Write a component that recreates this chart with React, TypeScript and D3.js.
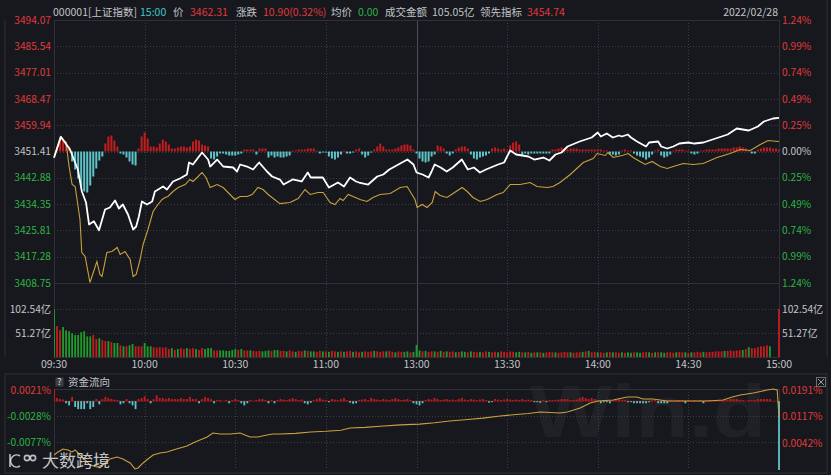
import React from 'react';
import * as d3 from 'd3';

// ---------- data ----------
const priceTicks = [3494.07, 3485.54, 3477.01, 3468.47, 3459.94, 3451.41, 3442.88, 3434.35, 3425.81, 3417.28, 3408.75];
const pctTicks = ['1.24%', '0.99%', '0.74%', '0.49%', '0.25%', '0.00%', '0.25%', '0.49%', '0.74%', '0.99%', '1.24%'];
const volTicks = [102.54, 51.27];
const volTickLabels = ['102.54亿', '51.27亿'];
const timeMinutes = [0, 30, 60, 90, 120, 150, 180, 210, 240];
const timeLabels = ['09:30', '10:00', '10:30', '11:00', '13:00', '13:30', '14:00', '14:30', '15:00'];
const flowLeftTicks = [0.0021, -0.0028, -0.0077];
const flowLeftLabels = ['0.0021%', '-0.0028%', '-0.0077%'];
const flowRightTicks = [0.0191, 0.0117, 0.0042];
const flowRightLabels = ['0.0191%', '0.0117%', '0.0042%'];

// price line: [trading minute, price]
const pricePts: [number, number][] = [
  [0, 3449.37], [2.3, 3456.18], [5.3, 3452.06], [7.9, 3445.57], [9.2, 3438.53], [10.6, 3434.87], [11.6, 3427.73],
  [13.2, 3428.8], [14.9, 3425.88], [16.9, 3432.59], [18.5, 3433.24], [20.2, 3435.51], [21.5, 3432.92], [22.8, 3434.22],
  [24.5, 3430.97], [26.2, 3426.11], [27.2, 3427.08], [28.1, 3430.32], [29.1, 3435.19], [30.8, 3434.22], [32.5, 3435.19],
  [33.4, 3438.43], [36.1, 3440.06], [37.4, 3439.08], [39.4, 3441.68], [41.7, 3442.65], [44, 3443.95], [44.7, 3447.84],
  [46, 3447.19], [49, 3451.09], [51, 3448.81], [51.7, 3446.54], [54, 3448.81], [56, 3446.54], [59.3, 3446.22],
  [60.6, 3444.92], [61.6, 3447.19], [63.9, 3446.54], [65.9, 3445.57], [67.9, 3447.84], [70.5, 3444.92], [72.2, 3443.3],
  [74.8, 3442.3], [76, 3440.7], [79, 3442.33], [82, 3441.68], [84, 3444.6], [85, 3442.98], [89, 3442.98],
  [91, 3439.73], [94, 3441.35], [96, 3440.06], [98, 3442.98], [100, 3441.68], [101, 3441.35], [104, 3440.7],
  [107, 3443.3], [109, 3443.95], [111, 3445.57], [114, 3447.19], [117, 3448.81], [119, 3447.19], [120, 3444.6],
  [122, 3443.95], [124, 3442.98], [125, 3444.92], [126, 3447.19], [128, 3446.22], [130, 3444.92], [132, 3446.22],
  [135, 3448.81], [137, 3445.57], [139, 3446.22], [141, 3444.6], [143, 3445.57], [147, 3447.19], [149, 3447.84],
  [151, 3451.73], [153, 3450.44], [157, 3449.79], [159, 3448.81], [162, 3449.46], [164, 3448.49], [166, 3450.44],
  [168, 3451.09], [170, 3453.03], [174, 3454.65], [178, 3455.95], [180, 3457.57], [181, 3456.28], [183, 3457.25],
  [185, 3455.95], [187, 3456.6], [188, 3456.28], [190, 3456.92], [191, 3455.95], [193, 3454.65], [196, 3453.03],
  [197, 3454.33], [200, 3454.65], [201, 3453.03], [203, 3452.38], [205, 3453.03], [207, 3454.0], [210, 3454.33],
  [212, 3454.0], [215, 3454.33], [218, 3455.3], [223, 3456.92], [226, 3458.87], [230, 3458.22], [233, 3459.52],
  [235, 3461.14], [238, 3462.11], [240, 3462.31],
];

// leading indicator line: [trading minute, value]
const leadPts: [number, number][] = [
  [0, 3449.46], [2, 3455.95], [4, 3454.33], [5, 3446.54], [6, 3440.7], [7, 3440.06], [8.6, 3429.35], [9.2, 3418.65],
  [10.3, 3417.35], [11.9, 3408.91], [14.2, 3415.73], [15.2, 3411.51], [15.9, 3410.86], [17.5, 3418.65], [19.2, 3418.97],
  [20.9, 3420.27], [21.9, 3418.0], [23.5, 3418.97], [25.2, 3416.37], [26.2, 3410.86], [27.2, 3411.51], [28.5, 3416.37],
  [29.5, 3421.24], [31.1, 3426.11], [32.8, 3431.95], [34.4, 3434.22], [35.8, 3435.84], [36.8, 3436.49], [37.7, 3436.81],
  [39.4, 3438.43], [41.1, 3439.73], [43.4, 3440.7], [45, 3442.33], [46, 3441.68], [47.4, 3442.98], [49, 3444.6],
  [50.3, 3442.98], [51.7, 3439.73], [54, 3440.7], [56, 3439.73], [59.9, 3435.84], [61.6, 3436.81], [63.9, 3436.81],
  [65.6, 3437.46], [67.5, 3439.73], [69.2, 3439.08], [70.9, 3437.46], [74.8, 3434.5], [78.1, 3434.87], [80.8, 3436.16],
  [83.1, 3439.08], [84.8, 3437.46], [87.4, 3438.11], [89.1, 3438.11], [91.4, 3434.87], [93, 3434.22], [94.7, 3436.16],
  [95.7, 3435.51], [97.4, 3437.46], [99, 3436.81], [101.3, 3435.84], [103.6, 3435.19], [105.6, 3436.49], [107.9, 3437.46],
  [111.3, 3437.79], [114.6, 3439.73], [116.9, 3440.06], [117.9, 3438.43], [119.5, 3435.84], [120.2, 3433.24],
  [121.9, 3434.22], [123.5, 3433.24], [125.2, 3434.87], [126.2, 3438.43], [127.8, 3437.14], [130.1, 3436.49],
  [132.1, 3437.79], [135.1, 3439.73], [136.8, 3438.43], [138.7, 3436.49], [141.1, 3435.19], [143.4, 3435.84],
  [146.7, 3437.46], [148.7, 3438.11], [151, 3440.7], [154.3, 3440.7], [157.6, 3441.35], [159.9, 3440.06],
  [163.2, 3439.73], [165.2, 3440.06], [167.5, 3441.35], [170.9, 3443.95], [175.2, 3447.84], [178.5, 3449.14],
  [179.8, 3450.76], [182.5, 3450.11], [183.4, 3451.09], [185.1, 3449.46], [188.1, 3450.11], [190.1, 3450.76],
  [191.7, 3449.46], [194, 3448.17], [195.7, 3447.19], [198, 3448.17], [200.7, 3446.54], [203, 3445.89], [205, 3446.54],
  [208.3, 3447.52], [211.6, 3447.19], [214.9, 3447.52], [219.5, 3449.46], [223.8, 3450.76], [227.2, 3452.06],
  [230.5, 3451.73], [233.8, 3453.68], [236.4, 3454.98], [239.7, 3454.65], [240, 3454.74],
];

// per-minute difference bars (indicator units), minute 0..240
const diffBars = [
  0,
  4, 12, 12, 10, 5, -10, -18, -27, -35, -40,
  -41, -34, -25, -17, -9, -5, 8, 15, 16, 11,
  5, -2, -3, -6, -10, -13, -14, 3, 15, 19,
  13, 5, 5, 4, 8, 12, 10, 7, 3, 3,
  4, 5, 5, 4, 5, 10, 12, 11, 7, 6,
  5, -7, -8, -5, -2, -2, -3, -4, -4, -4,
  -3, -2, 2, 2, 2, 2, -3, 3, 3, 3,
  -6, -4, -6, -5, -6, -6, -5, -4, 1, 1,
  2, 2, 2, 3, 3, 3, 1, -2, -1, -1,
  -5, -7, -8, -6, -3, 1, -2, -2, -1, 2,
  3, -3, -6, -4, -1, 2, 5, 8, 5, 2,
  2, 2, 3, 4, 6, 7, 7, 6, 2, -2,
  -7, -10, -11, -10, -5, -3, 6, 5, 3, -2,
  -4, -2, 2, 4, 5, 5, 3, -3, -7, -8,
  -6, -5, -4, -2, 3, 4, 3, 2, 3, 1,
  6, 9, 10, 7, -4, -2, -3, -2, -2, -2,
  -2, -2, -2, -2, 2, 2, 3, 4, 3, 2,
  3, 3, 3, 2, 2, 2, 2, 2, 2, 2,
  2, 1, 1, -3, -3, -4, -3, 1, 2, 1,
  1, -2, -4, -5, -6, -8, -6, -3, 1, 2,
  -4, -6, -5, -3, 1, 2, 2, 2, 1, 1,
  -2, -3, -2, 1, 1, 2, 2, 2, 2, 3,
  3, 3, 3, 3, 4, 4, 5, 4, 3, 1,
  -2, -2, 2, 3, 4, 4, 4, 3, 3, 2,
];

// per-minute turnover (亿), minute 0..240
const volume = [
  160, 66, 57, 64, 57, 55, 51, 47, 47, 53,
  55, 44, 44, 47, 38, 40, 36, 34, 34, 32,
  30, 30, 25, 23, 23, 25, 28, 23, 23, 23,
  30, 23, 23, 21, 20, 21, 20, 21, 17, 19,
  15, 17, 19, 17, 19, 17, 19, 17, 15, 19,
  17, 19, 19, 14, 14, 14, 14, 13, 13, 15,
  17, 15, 17, 14, 14, 14, 13, 12, 13, 12,
  13, 14, 13, 15, 15, 13, 13, 12, 14, 12,
  11, 13, 12, 14, 13, 12, 12, 11, 13, 12,
  12, 11, 13, 12, 11, 12, 11, 12, 13, 11,
  12, 10, 11, 12, 11, 12, 13, 12, 11, 12,
  12, 13, 11, 10, 12, 11, 11, 12, 10, 11,
  26, 14, 12, 13, 11, 12, 12, 11, 13, 11,
  12, 11, 12, 10, 11, 12, 11, 10, 12, 11,
  10, 11, 10, 12, 11, 10, 11, 10, 12, 11,
  10, 12, 11, 10, 11, 10, 10, 11, 9, 10,
  10, 10, 9, 10, 11, 10, 10, 9, 10, 11,
  10, 10, 9, 10, 10, 11, 12, 13, 10, 11,
  10, 10, 9, 10, 11, 10, 10, 9, 10, 9,
  10, 9, 10, 10, 9, 10, 11, 10, 9, 10,
  10, 10, 9, 10, 10, 9, 10, 11, 10, 10,
  9, 10, 10, 11, 10, 11, 10, 11, 11, 12,
  12, 12, 13, 13, 14, 13, 14, 14, 15, 17,
  21, 19, 19, 21, 23, 23, 25, 23, 0, 0,
  104,
];
// R = up minute, G = down minute
const volumeDir =
  'GRRGGGGGGG' + 'GGGRRGRRGR' + 'GGRGRGGRRR' + 'GGGRRRRRRG' + 'RGRRGRRGRR' + 'GGGRRGGGGG' +
  'GRGRRGRRRG' + 'GGRGGRRGRR' + 'GRRGRGGRRG' + 'RGRRGRGRRG' + 'RRGRRRGRRR' + 'GRRGRRGGRG' +
  'GGRGRRGRGR' + 'GRRGRGGRGR' + 'RGRRGRRGRR' + 'RRRGGRGRGR' + 'GRGRRRGRRR' + 'RGRRRGRGRR' +
  'GRRGRGRRGR' + 'GGRGGRRGRG' + 'RGGRRRGRRG' + 'RGRRRGRRRR' + 'RRGRRRRRGR' + 'GRRRRRRGGG' + 'R';

// money-flow bars (×0.0001%), minute 0..240
const flowBars = [
  23, 6, 4, 3, -4, -8, 8, -11, -15, -15,
  -15, -4, -15, -11, 4, -6, 4, 8, 6, 4,
  3, 2, -6, -4, 4, -4, -8, -15, 4, 6,
  9, 4, -4, 4, 11, 6, 6, 4, 6, 4,
  4, 4, 6, 4, 4, 8, 4, 4, -4, 4,
  8, 6, 4, -4, 2, 2, 0, 2, -4, 2,
  4, 2, -4, -8, -4, 2, 0, 2, 4, 4,
  2, -4, 2, -4, 2, 4, 3, 2, 4, 6,
  4, 2, 3, -4, -6, -3, 2, 4, 6, 3,
  2, -2, 4, 3, 2, 4, 6, 2, -3, -5,
  -4, 2, 3, 4, 2, 6, 4, 3, 2, 4,
  3, 2, 4, 6, 4, 2, 3, 4, 2, -4,
  -6, -8, -4, 2, 4, 3, 6, 4, 2, 3,
  4, 2, 3, 2, 4, 6, 3, 2, 4, 3,
  2, 3, 4, 2, -3, -2, 4, 3, 2, 3,
  4, 3, 2, 3, 2, 4, 2, 3, 2, -2,
  -2, -3, 2, -2, 2, 2, 2, 3, 4, 4,
  4, 2, 2, 3, 6, 8, 6, 4, 6, 4,
  2, -4, -2, -2, -4, 2, 4, 4, 2, 2,
  -2, -2, -4, -4, -4, -4, -4, -2, 2, 2,
  -4, -4, -4, -4, 2, 0, 2, 2, 2, -4,
  2, 0, 2, 0, 2, -4, 2, 2, 0, 2,
  2, 2, 2, 2, 4, 4, 4, 2, 2, 0,
  2, 2, 2, 4, 4, 4, 4, 4, 0, 0,
  -130,
];

// cumulative money flow line (%): [trading minute, value]
const flowPts: [number, number][] = [
  [0, 0.00083], [1.3, 0.00168], [3, 0.00252], [4.6, 0.00224], [6, 0.00168], [7, 0.00224], [8.6, 0.00083],
  [10.3, -0.00057], [11.9, -0.00198], [14.2, -0.00254], [16.2, -0.00198], [18.5, -0.00029], [20.9, 0.00027],
  [22.8, -0.00029], [25.2, -0.00141], [26.8, -0.0031], [27.8, -0.00282], [29.5, -0.00141], [31.1, -0.00029],
  [32.8, 0.00083], [35.1, 0.0014], [37.4, 0.00168], [39.4, 0.00224], [41.7, 0.0028], [44, 0.00336], [46, 0.00421],
  [48.3, 0.00505], [50.7, 0.00589], [52.6, 0.00702], [55, 0.00674], [58.3, 0.00674], [61.6, 0.00702],
  [63.2, 0.00646], [64.9, 0.00589], [67.5, 0.00589], [70.5, 0.00646], [72.5, 0.00674], [74.8, 0.00674],
  [80, 0.0069], [85, 0.0073], [90, 0.0075], [95, 0.0078], [98, 0.0084], [103, 0.0086], [108, 0.0089],
  [114.6, 0.0093], [121, 0.0095], [126, 0.0099], [131, 0.0104], [137, 0.0108], [142, 0.0112], [147.7, 0.0118],
  [153, 0.0122], [157, 0.0125], [161, 0.0129], [167.5, 0.01264], [169.9, 0.01292], [174.2, 0.01404],
  [177.5, 0.01545], [180.1, 0.01601], [185.1, 0.01629], [189.7, 0.01713], [193, 0.01713], [195, 0.01657],
  [198.3, 0.01657], [203, 0.01601], [209.6, 0.01601], [216.2, 0.01601], [221.5, 0.01629], [224.5, 0.01713],
  [227.2, 0.0177], [231.5, 0.01826], [236.1, 0.0191], [238.1, 0.01938], [239.4, 0.0191], [240, 0.01151],
];

// header fields
const headerItems = [
  { t: '000001[上证指数]', c: 'label', x: 53 },
  { t: '15:00', c: 'time', x: 140 },
  { t: '价', c: 'label', x: 173 },
  { t: '3462.31', c: 'up', x: 190 },
  { t: '涨跌', c: 'label', x: 236 },
  { t: '10.90(0.32%)', c: 'up', x: 263 },
  { t: '均价', c: 'label', x: 331 },
  { t: '0.00', c: 'down', x: 358 },
  { t: '成交金额', c: 'label', x: 385 },
  { t: '105.05亿', c: 'label', x: 432 },
  { t: '领先指标', c: 'label', x: 480 },
  { t: '3454.74', c: 'up', x: 527 },
];
const dateLabel = '2022/02/28';

// ---------- styles ----------
const BG = '#16181d';
const GRID = '#3a3e46';
const BORDER = '#2e3138';
const RED_TXT = '#e0393b';
const GREEN_TXT = '#2fb344';
const GREY_TXT = '#c2c4c8';
const CYAN = '#5ec4c8';
const RED_BAR = '#c41d1f';
const GREEN_BAR = '#1f9c2c';
const YELLOW = '#c9a03e';
const FONT = '"Noto Sans CJK SC", "Noto Sans", sans-serif';
const colorFor: Record<string, string> = { label: GREY_TXT, time: '#3fc7c9', up: RED_TXT, down: GREEN_TXT };

export default function App() {
  const W = 831, H = 475;
  const L = 54, R = 779;
  const pTop = 20, pBot = 283, vBot = 357;
  const fTop = 389, fBot = 470;
  const AX = 10.2;

  const x = d3.scaleLinear().domain([0, 240]).range([L, R]);
  const yP = d3.scaleLinear().domain([priceTicks[10], priceTicks[0]]).range([pBot, pTop]);
  const yDiff = d3.scaleLinear().domain([-131.5, 131.5]).range([pBot, pTop]);
  const yV = d3.scaleLinear().domain([0, 102.54]).range([vBot, 309]).clamp(true);
  const yFL = d3.scaleLinear().domain([-77, 21]).range([442, 390]);
  const yFLv = d3.scaleLinear().domain([-0.0077, 0.0021]).range([442, 390]);
  const yFR = d3.scaleLinear().domain([0.0042, 0.0191]).range([443, 390]);

  const priceLine = d3.line<[number, number]>().x(d => x(d[0])).y(d => yP(d[1]));
  const flowLine = d3.line<[number, number]>().x(d => x(d[0])).y(d => yFR(d[1]));

  const gridMinutes = [30, 60, 90, 150, 180, 210];
  const zeroDiff = yDiff(0);
  const zeroFlow = yFL(0);

  const tickColor = (i: number) => (i < 5 ? RED_TXT : i === 5 ? GREY_TXT : GREEN_TXT);

  return (
    <svg width={W} height={H} style={{ display: 'block', position: 'absolute', left: 0, top: 0, background: BG }} fontFamily={FONT}>
      <rect x={0} y={0} width={W} height={H} fill={BG} />
      <defs>
        <clipPath id="flowClip"><rect x={L} y={fTop - 5} width={R - L + 1} height={fBot - fTop + 5} /></clipPath>
        <clipPath id="volClip"><rect x={L} y={pBot} width={R - L + 1} height={vBot - pBot} /></clipPath>
      </defs>

      {/* watermark (kept inside the lower panel so it does not collide with the time labels) */}
      <text x={530} y={437} fontSize={74} fontWeight={700} fill="#ffffff" fillOpacity={0.045}
        textLength={236} lengthAdjust="spacingAndGlyphs" fontFamily="Liberation Sans, Arial, sans-serif">Win.d</text>

      {/* outer frames */}
      <line x1={5} y1={20} x2={5} y2={vBot} stroke={BORDER} />
      <line x1={827} y1={0} x2={827} y2={vBot} stroke={BORDER} />
      <rect x={5} y={374} width={822} height={99} fill="none" stroke={BORDER} />

      {/* price grid */}
      {priceTicks.map((t, i) => (i > 0 && i < 10 ? (
        <line key={'pg' + i} x1={L} x2={R} y1={Math.round(yP(t)) + 0.5} y2={Math.round(yP(t)) + 0.5} stroke={GRID} strokeDasharray="1,2" />
      ) : null))}
      {volTicks.map((t, i) => (
        <line key={'vg' + i} x1={L} x2={R} y1={Math.round(yV(t)) + 0.5} y2={Math.round(yV(t)) + 0.5} stroke={GRID} strokeDasharray="1,2" />
      ))}
      {gridMinutes.map(m => (
        <g key={'vgm' + m}>
          <line x1={Math.round(x(m)) + 0.5} x2={Math.round(x(m)) + 0.5} y1={pTop} y2={vBot} stroke={GRID} strokeDasharray="1,2" />
          <line x1={Math.round(x(m)) + 0.5} x2={Math.round(x(m)) + 0.5} y1={fTop} y2={fBot} stroke={GRID} strokeDasharray="1,2" />
        </g>
      ))}
      <line x1={Math.round(x(120)) + 0.5} x2={Math.round(x(120)) + 0.5} y1={pTop} y2={vBot} stroke="#4a4e57" />
      <line x1={Math.round(x(120)) + 0.5} x2={Math.round(x(120)) + 0.5} y1={fTop} y2={fBot} stroke={GRID} strokeDasharray="1,2" />

      {/* plot borders */}
      <rect x={L + 0.5} y={pTop + 0.5} width={R - L} height={vBot - pTop} fill="none" stroke={BORDER} />
      <line x1={L} x2={R} y1={pBot + 0.5} y2={pBot + 0.5} stroke={BORDER} />

      {/* diff bars */}
      {diffBars.map((v, i) => v === 0 ? null : (
        <rect key={'db' + i} x={x(i) - 1} width={2}
          y={v > 0 ? yDiff(v) : zeroDiff} height={Math.abs(yDiff(v) - zeroDiff)}
          fill={v > 0 ? RED_BAR : CYAN} />
      ))}

      {/* lines */}
      <path d={priceLine(leadPts) || ''} fill="none" stroke={YELLOW} strokeWidth={1.1} />
      <path d={priceLine(pricePts) || ''} fill="none" stroke="#ffffff" strokeWidth={1.8} strokeLinejoin="round" />

      {/* volume */}
      <g clipPath="url(#volClip)">
        {volume.map((v, i) => v === 0 ? null : (
          <rect key={'vb' + i} x={x(i) - 0.9} width={1.8} y={yV(v)} height={vBot - yV(v)}
            fill={volumeDir[i] === 'R' ? RED_BAR : GREEN_BAR} />
        ))}
      </g>

      {/* left price labels */}
      {priceTicks.map((t, i) => (
        <text key={'pl' + i} x={51} y={yP(t) + 3.7} textAnchor="end" fontSize={AX} fill={tickColor(i)}>{t.toFixed(2)}</text>
      ))}
      {pctTicks.map((t, i) => (
        <text key={'pr' + i} x={782} y={yP(priceTicks[i]) + 3.7} fontSize={AX} fill={tickColor(i)}>{t}</text>
      ))}
      {volTicks.map((t, i) => (
        <g key={'vl' + i}>
          <text x={51} y={yV(t) + 3.7} textAnchor="end" fontSize={AX} fill={GREY_TXT}>{volTickLabels[i]}</text>
          <text x={782} y={yV(t) + 3.7} fontSize={AX} fill={GREY_TXT}>{volTickLabels[i]}</text>
        </g>
      ))}

      {/* time labels */}
      {timeMinutes.map((m, i) => (
        <text key={'tl' + i} x={x(m)} y={368} textAnchor="middle" fontSize={10.5} fill={GREY_TXT}>{timeLabels[i]}</text>
      ))}

      {/* header */}
      {headerItems.map((h, i) => (
        <text key={'h' + i} x={h.x} y={16} fontSize={10.5} fill={colorFor[h.c]}>{h.t}</text>
      ))}
      <text x={778} y={16} textAnchor="end" fontSize={10.5} fill={GREY_TXT}>{dateLabel}</text>

      {/* money flow panel */}
      <rect x={55.5} y={377.5} width={8} height={9} fill="#3b3e45" />
      <text x={59.5} y={385} textAnchor="middle" fontSize={9} fill="#e0e0e0">?</text>
      <text x={68} y={386} fontSize={10.5} fill={GREY_TXT}>资金流向</text>
      <rect x={816.5} y={377.5} width={9} height={9} fill="none" stroke="#6a6d74" />
      <path d="M818,379 L824,385 M824,379 L818,385" stroke="#9a9da4" strokeWidth={1} />

      <line x1={L} x2={R} y1={fTop + 0.5} y2={fTop + 0.5} stroke={BORDER} />
      {[flowLeftTicks[1], flowLeftTicks[2]].map((t, i) => (
        <line key={'fg' + i} x1={L} x2={R} y1={Math.round(yFLv(t)) + 0.5} y2={Math.round(yFLv(t)) + 0.5} stroke={GRID} strokeDasharray="1,2" />
      ))}
      <line x1={L + 0.5} x2={L + 0.5} y1={fTop} y2={fBot} stroke={BORDER} />
      <line x1={R + 0.5} x2={R + 0.5} y1={fTop} y2={fBot} stroke={BORDER} />
      <line x1={L} x2={R} y1={zeroFlow} y2={zeroFlow} stroke="#7a1a1c" />

      <g clipPath="url(#flowClip)">
        {flowBars.map((v, i) => v === 0 ? null : (
          <rect key={'fb' + i} x={x(i) - 0.9} width={1.8}
            y={v > 0 ? yFL(v) : zeroFlow} height={Math.abs(yFL(v) - zeroFlow)}
            fill={v > 0 ? RED_BAR : CYAN} />
        ))}
        <path d={flowLine(flowPts) || ''} fill="none" stroke={YELLOW} strokeWidth={1.1} />
      </g>

      {flowLeftTicks.map((t, i) => (
        <text key={'fl' + i} x={51} y={yFLv(t) + 3.7} textAnchor="end" fontSize={AX} fill={t > 0 ? RED_TXT : GREEN_TXT}>{flowLeftLabels[i]}</text>
      ))}
      {flowRightTicks.map((t, i) => (
        <text key={'fr' + i} x={782} y={yFR(t) + 3.7} fontSize={AX} fill={RED_TXT}>{flowRightLabels[i]}</text>
      ))}

      {/* bottom-left logo */}
      <g stroke="#e6e6e6" strokeOpacity={0.8} fill="none" strokeWidth={1.6}>
        <path d="M10,454 L10,467" />
        <path d="M20,456 A6,6 0 1 0 20,466" />
        <circle cx={27} cy={458} r={2.6} />
        <circle cx={33} cy={458} r={2.6} />
      </g>
      <text x={42} y={467} fontSize={17} fill="#e6e6e6" fillOpacity={0.85}>大数跨境</text>
    </svg>
  );
}
